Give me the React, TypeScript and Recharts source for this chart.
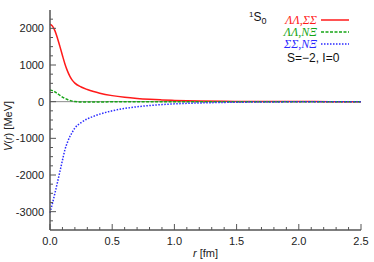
import React from 'react';
import { LineChart, Line, XAxis, YAxis, ReferenceLine, Legend } from 'recharts';

const rValues = [0, 0.02, 0.04, 0.06, 0.08, 0.1, 0.12, 0.14, 0.16, 0.18, 0.2, 0.25, 0.3, 0.35, 0.4, 0.5, 0.6, 0.7, 0.8, 0.9, 1.0, 1.2, 1.4, 1.6, 1.8, 2.0, 2.25, 2.5];
const vLLSS = [2110, 2060, 1930, 1730, 1500, 1260, 1030, 840, 690, 580, 505, 400, 330, 275, 230, 165, 120, 88, 65, 48, 35, 18, 10, 5, 3, 2, 1, 0];
const vLLNX = [320, 300, 265, 220, 170, 125, 90, 60, 35, 15, 2, -8, -10, -9, -7, -5, -3, -2, -1, -1, 0, 0, 0, 0, 0, 0, 0, 0];
const vSSNX = [-3030, -2770, -2490, -2200, -1900, -1600, -1310, -1110, -950, -830, -720, -570, -470, -400, -340, -250, -185, -140, -105, -80, -60, -35, -20, -12, -7, -4, -2, -1];

const seriesNames = ['ΛΛ,ΣΣ', 'ΛΛ,NΞ', 'ΣΣ,NΞ'];
const xTicks = [0, 0.1, 0.2, 0.3, 0.4, 0.5, 0.6, 0.7, 0.8, 0.9, 1.0, 1.1, 1.2, 1.3, 1.4, 1.5, 1.6, 1.7, 1.8, 1.9, 2.0, 2.1, 2.2, 2.3, 2.4, 2.5];
const xMajor = [0, 0.5, 1.0, 1.5, 2.0, 2.5];
const xLabels = ['0.0', '0.5', '1.0', '1.5', '2.0', '2.5'];
const yTicks = [-3250, -3000, -2750, -2500, -2250, -2000, -1750, -1500, -1250, -1000, -750, -500, -250, 0, 250, 500, 750, 1000, 1250, 1500, 1750, 2000, 2250];
const yMajor = [-3000, -2000, -1000, 0, 1000, 2000];

const data = rValues.map((r, i) => ({ r, a: vLLSS[i], b: vLLNX[i], c: vSSNX[i] }));

const AXIS = '#555';
const FONT = '"Liberation Sans", Arial, sans-serif';

const majorIdx = (v: number, list: number[]) => list.findIndex((m) => Math.abs(m - v) < 1e-6);

const BottomTick = (props: any) => {
  const { x, y, payload } = props;
  const k = majorIdx(payload.value, xMajor);
  return (
    <g>
      <line x1={x} x2={x} y1={y} y2={y - (k >= 0 ? 6 : 3)} stroke={AXIS} strokeWidth={1} />
      {k >= 0 && (
        <text x={x} y={y + 15} textAnchor="middle" fontSize={11} fontFamily={FONT} fill="#222">
          {xLabels[k]}
        </text>
      )}
    </g>
  );
};
const TopTick = (props: any) => {
  const { x, y, payload } = props;
  const k = majorIdx(payload.value, xMajor);
  return <line x1={x} x2={x} y1={y} y2={y + (k >= 0 ? 6 : 3)} stroke={AXIS} strokeWidth={1} />;
};
const LeftTick = (props: any) => {
  const { x, y, payload } = props;
  const k = majorIdx(payload.value, yMajor);
  return (
    <g>
      <line x1={x} x2={x + (k >= 0 ? 6 : 3)} y1={y} y2={y} stroke={AXIS} strokeWidth={1} />
      {k >= 0 && (
        <text x={x - 6} y={y + 4} textAnchor="end" fontSize={11} fontFamily={FONT} fill="#222">
          {String(payload.value)}
        </text>
      )}
    </g>
  );
};
const RightTick = (props: any) => {
  const { x, y, payload } = props;
  const k = majorIdx(payload.value, yMajor);
  return <line x1={x} x2={x - (k >= 0 ? 6 : 3)} y1={y} y2={y} stroke={AXIS} strokeWidth={1} />;
};

const YLabel = (props: any) => {
  const vb = props.viewBox || { x: 0, y: 10, width: 50, height: 220 };
  const cx = vb.x + 12;
  const cy = vb.y + vb.height / 2 + 6;
  return (
    <text x={cx} y={cy} transform={`rotate(-90 ${cx} ${cy})`} textAnchor="middle" fontSize={11} fontFamily={FONT} fill="#222">
      <tspan fontStyle="italic">V</tspan>(<tspan fontStyle="italic">r</tspan>) [MeV]
    </text>
  );
};
const XLabel = (props: any) => {
  const vb = props.viewBox || { x: 50, y: 230, width: 311, height: 32 };
  return (
    <text x={vb.x + vb.width / 2} y={vb.y + 27} textAnchor="middle" fontSize={11} fontFamily={FONT} fill="#222">
      <tspan fontStyle="italic">r</tspan> [fm]
    </text>
  );
};

const rowCenters = [20, 32, 44];

const LegendContent = (props: any) => {
  const payload = props.payload || [];
  return (
    <div style={{ position: 'relative', width: 374, height: 80, fontFamily: FONT }}>
      <div style={{ position: 'absolute', left: 249, top: 11, fontSize: 12, lineHeight: '12px', color: '#111', whiteSpace: 'nowrap' }}>
        <sup style={{ fontSize: 8, verticalAlign: 'top', lineHeight: '8px' }}>1</sup>S<sub style={{ fontSize: 9, verticalAlign: 'baseline', position: 'relative', top: 3, lineHeight: '9px' }}>0</sub>
      </div>
      {payload.map((p: any, j: number) => {
        const i = Math.max(0, seriesNames.indexOf(p.value));
        return (
          <React.Fragment key={j}>
            <div
              style={{
                position: 'absolute',
                right: 374 - 317,
                top: rowCenters[i] - 6,
                height: 12,
                lineHeight: '12px',
                fontFamily: '"Liberation Serif", "DejaVu Serif", serif',
                fontStyle: 'italic',
                fontSize: 12,
                color: p.color,
                whiteSpace: 'nowrap',
              }}
            >
              {p.value}
            </div>
            <svg style={{ position: 'absolute', left: 321, top: rowCenters[i] - 2 }} width={28} height={4}>
              <line x1={0} x2={28} y1={2} y2={2} stroke={p.color} strokeWidth={1.5} strokeDasharray={p.payload && p.payload.strokeDasharray} />
            </svg>
          </React.Fragment>
        );
      })}
      <div style={{ position: 'absolute', left: 287, top: 52, fontSize: 12, lineHeight: '12px', color: '#111', whiteSpace: 'nowrap' }}>
        S=−2, I=0
      </div>
    </div>
  );
};

export default function App() {
  return (
    <div style={{ position: 'absolute', left: 0, top: 0 }}>
      <LineChart width={374} height={262} data={data} margin={{ top: 10, right: 13, bottom: 0, left: 0 }}>
        <XAxis xAxisId="top" orientation="top" height={0} type="number" dataKey="r" domain={[0, 2.5]} ticks={xTicks} interval={0} tick={TopTick} tickLine={false} tickSize={0} tickMargin={0} axisLine={{ stroke: AXIS, strokeWidth: 1.5 }} />
        <YAxis yAxisId="right" orientation="right" width={0} type="number" domain={[-3500, 2500]} ticks={yTicks} interval={0} tick={RightTick} tickLine={false} tickSize={0} tickMargin={0} axisLine={{ stroke: AXIS, strokeWidth: 1.5 }} />
        <XAxis xAxisId="x" orientation="bottom" height={32} type="number" dataKey="r" domain={[0, 2.5]} ticks={xTicks} interval={0} tick={BottomTick} tickLine={false} tickSize={0} tickMargin={0} axisLine={{ stroke: AXIS, strokeWidth: 1.5 }} label={<XLabel />} />
        <YAxis yAxisId="y" orientation="left" width={50} type="number" domain={[-3500, 2500]} ticks={yTicks} interval={0} tick={LeftTick} tickLine={false} tickSize={0} tickMargin={0} axisLine={{ stroke: AXIS, strokeWidth: 1.5 }} label={<YLabel />} />
        <ReferenceLine xAxisId="x" yAxisId="y" y={0} stroke="#8a8a8a" strokeWidth={1} />
        <Line xAxisId="x" yAxisId="y" type="monotone" dataKey="a" name={seriesNames[0]} stroke="#ff1a1a" strokeWidth={1.5} dot={false} isAnimationActive={false} />
        <Line xAxisId="x" yAxisId="y" type="monotone" dataKey="b" name={seriesNames[1]} stroke="#16a516" strokeWidth={1.5} strokeDasharray="3 1.5" dot={false} isAnimationActive={false} />
        <Line xAxisId="x" yAxisId="y" type="monotone" dataKey="c" name={seriesNames[2]} stroke="#2a2aff" strokeWidth={1.5} strokeDasharray="1.5 1.5" dot={false} isAnimationActive={false} />
        <Legend layout="vertical" align="center" verticalAlign="middle" wrapperStyle={{ position: 'absolute', left: 0, top: 0, width: 374, height: 80 }} content={<LegendContent />} />
      </LineChart>
    </div>
  );
}
